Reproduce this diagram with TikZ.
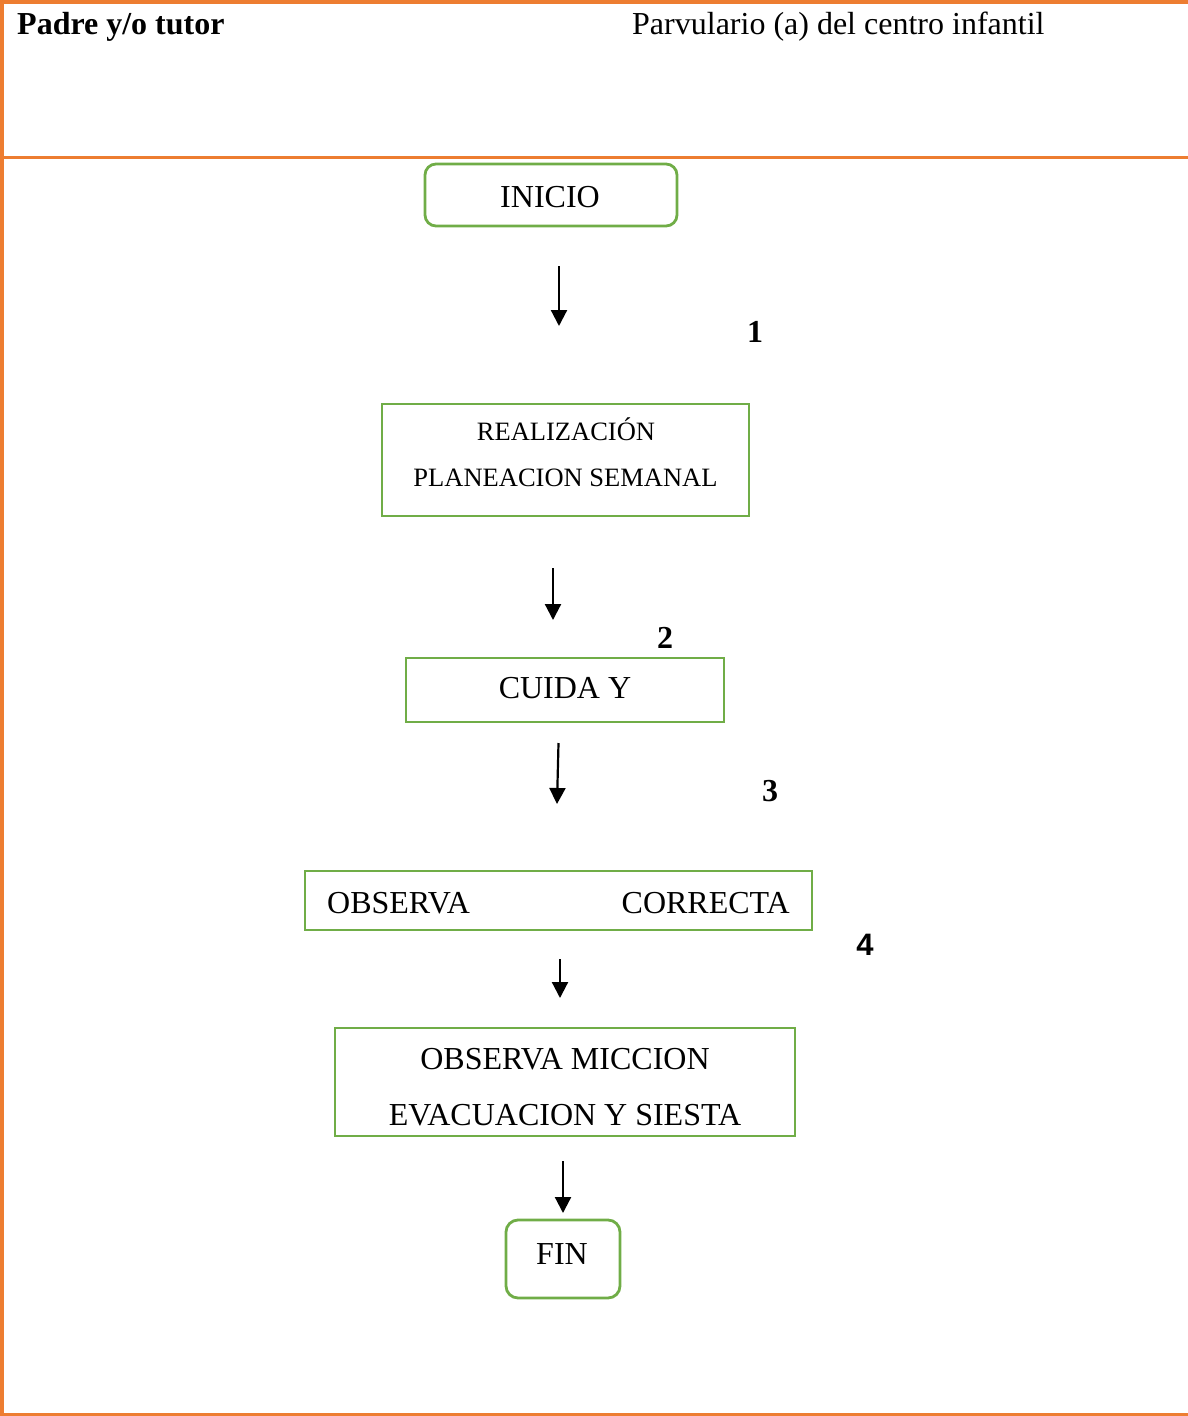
\documentclass[tikz,border=0pt]{standalone}
\usepackage{fontspec}
\setmainfont{Liberation Serif}
\newfontfamily\numsans{Liberation Sans}
\usetikzlibrary{arrows.meta}
\definecolor{frameorange}{HTML}{ED7D31}
\definecolor{boxgreen}{HTML}{70AD47}
\begin{document}
\begin{tikzpicture}[x=1pt,y=-1pt,
  frameline/.style={draw=frameorange,line width=3.5pt},
  stepbox/.style={draw=boxgreen,line width=2.8pt,inner sep=0pt,outer sep=0pt},
  termbox/.style={stepbox,rounded corners=11pt},
  txt/.style={inner sep=0pt,anchor=base,font=\fontsize{32}{38}\selectfont},
  smalltxt/.style={inner sep=0pt,anchor=base,font=\fontsize{26.5}{32}\selectfont},
  num/.style={inner sep=0pt,anchor=base,font=\bfseries\fontsize{32}{38}\selectfont},
  flow/.style={line width=2.2pt,-{Triangle[width=16pt,length=16pt]}}
]
\useasboundingbox (0,0) rectangle (1188,1416);

% table frame
\draw[frameline] (0,1.75) -- (1188,1.75);
\draw[frameline] (0,157.5) -- (1188,157.5);
\draw[frameline] (0,1414.25) -- (1188,1414.25);
\draw[frameline] (1.75,0) -- (1.75,1416);

% column headings
\node[txt,anchor=base west,font=\bfseries\fontsize{32}{38}\selectfont] (padre) at (17,34) {Padre y/o tutor};
\node[txt,anchor=base west] (parv) at (632,34) {Parvulario (a) del centro infantil};

% flow boxes
\node[termbox,minimum width=252pt,minimum height=62pt] (inicio) at (551,195) {};
\node[stepbox,minimum width=367pt,minimum height=112pt] (plan) at (565.5,460) {};
\node[stepbox,minimum width=318pt,minimum height=64pt] (cuida) at (565,690) {};
\node[stepbox,minimum width=507pt,minimum height=59pt] (obs) at (558.5,900.5) {};
\node[stepbox,minimum width=460pt,minimum height=108pt] (micc) at (565,1082) {};
\node[termbox,minimum width=114pt,minimum height=78pt,rounded corners=12pt] (fin) at (563,1259) {};

% box texts
\node[txt] (inicioT) at (550,207) {INICIO};
\node[smalltxt] (planT1) at (566,440) {REALIZACIÓN};
\node[smalltxt] (planT2) at (565.5,486) {PLANEACION SEMANAL};
\node[txt] (cuidaT) at (565,698) {CUIDA Y};
\node[txt,anchor=base west] (obsT1) at (327,913) {OBSERVA};
\node[txt,anchor=base east] (obsT2) at (790,913) {CORRECTA};
\node[txt] (miccT1) at (565,1069) {OBSERVA MICCION};
\node[txt] (miccT2) at (565,1125) {EVACUACION Y SIESTA};
\node[txt] (finT) at (562,1264) {FIN};

% step numbers
\node[num] (n1) at (755,342) {1};
\node[num] (n2) at (665,648) {2};
\node[num] (n3) at (770,801) {3};
\node[num,font=\numsans\bfseries\fontsize{31}{36}\selectfont] (n4) at (865,955) {4};

% arrows
\coordinate (a1s) at (559,266);  \coordinate (a1e) at (559,326);
\coordinate (a2s) at (553,568);  \coordinate (a2e) at (553,620);
\coordinate (a3s) at (558.5,743);\coordinate (a3e) at (557,804);
\coordinate (a4s) at (560,959);  \coordinate (a4e) at (560,998);
\coordinate (a5s) at (563,1161); \coordinate (a5e) at (563,1213);
\draw[flow] (a1s) -- (a1e);
\draw[flow] (a2s) -- (a2e);
\draw[flow] (a3s) -- (a3e);
\draw[flow] (a4s) -- (a4e);
\draw[flow] (a5s) -- (a5e);
\end{tikzpicture}
\end{document}
